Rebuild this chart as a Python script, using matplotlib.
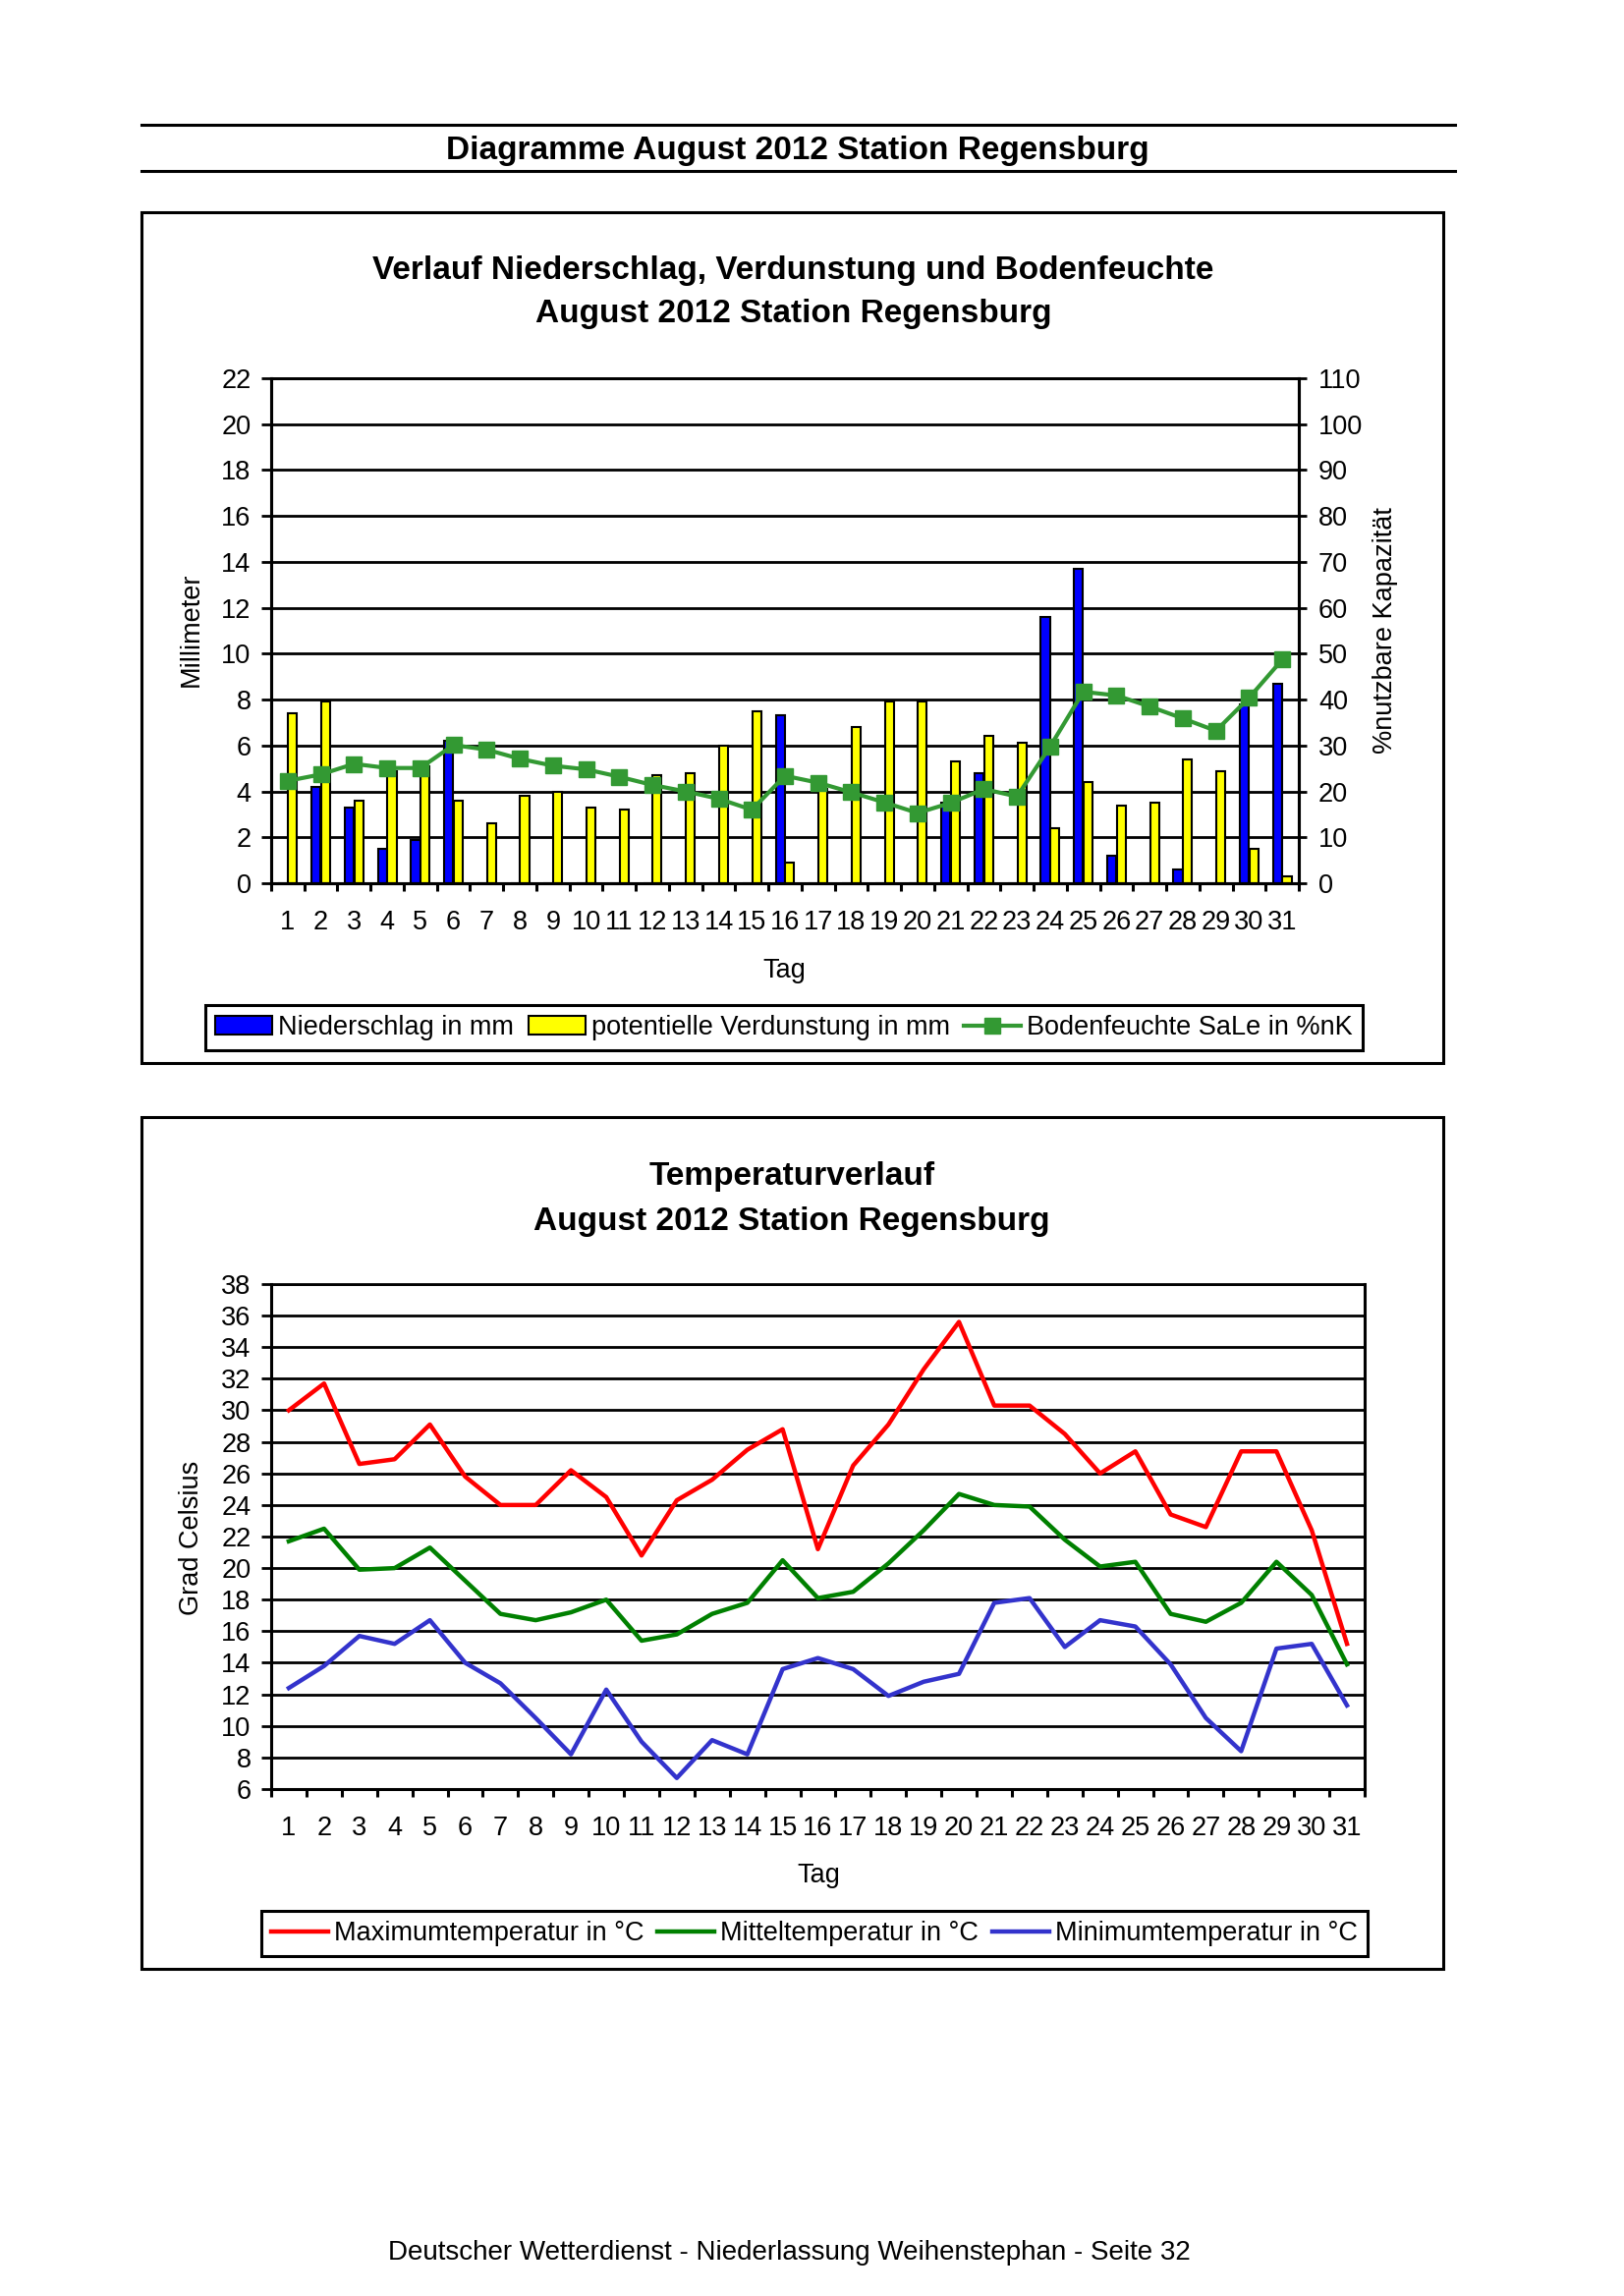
import numpy as np
import matplotlib
matplotlib.use("Agg")
import matplotlib.pyplot as plt
from matplotlib.patches import Rectangle
from matplotlib.lines import Line2D

plt.rcParams['font.family'] = ['Liberation Sans', 'DejaVu Sans']

tage = np.arange(1, 32)
tag_labels = [str(t) for t in tage]

# mm
niederschlag = [0, 4.2, 3.3, 1.5, 1.9, 6.2, 0, 0, 0, 0, 0, 0, 0, 0, 0, 7.3,
                0, 0, 0, 0, 3.5, 4.8, 0, 11.6, 13.7, 1.2, 0, 0.6, 0, 7.8, 8.7]
verdunstung = [7.4, 7.9, 3.6, 4.9, 5.1, 3.6, 2.6, 3.8, 4.0, 3.3, 3.2, 4.7,
               4.8, 6.0, 7.5, 0.9, 4.1, 6.8, 7.9, 7.9, 5.3, 6.4, 6.1, 2.4,
               4.4, 3.4, 3.5, 5.4, 4.9, 1.5, 0.3]
# % nK
bodenfeuchte = [22.3, 23.7, 26.0, 25.1, 25.1, 30.1, 29.1, 27.1, 25.6, 24.8,
                23.2, 21.4, 20.0, 18.4, 16.0, 23.4, 21.9, 19.8, 17.6, 15.3,
                17.5, 20.5, 18.9, 29.8, 41.7, 40.9, 38.5, 35.9, 33.2, 40.4,
                48.7]

# deg C
t_max = [30.0, 31.7, 26.6, 26.9, 29.1, 25.8, 24.0, 24.0, 26.2, 24.5, 20.8,
         24.3, 25.6, 27.5, 28.8, 21.2, 26.5, 29.1, 32.6, 35.6, 30.3, 30.3,
         28.5, 26.0, 27.4, 23.4, 22.6, 27.4, 27.4, 22.4, 15.2]
t_mittel = [21.7, 22.5, 19.9, 20.0, 21.3, 19.2, 17.1, 16.7, 17.2, 18.0, 15.4,
            15.8, 17.1, 17.8, 20.5, 18.1, 18.5, 20.3, 22.4, 24.7, 24.0, 23.9,
            21.8, 20.1, 20.4, 17.1, 16.6, 17.8, 20.4, 18.3, 13.9]
t_min = [12.4, 13.8, 15.7, 15.2, 16.7, 14.0, 12.7, 10.5, 8.2, 12.3, 9.0, 6.7,
         9.1, 8.2, 13.6, 14.3, 13.6, 11.9, 12.8, 13.3, 17.8, 18.1, 15.0, 16.7,
         16.3, 13.9, 10.5, 8.4, 14.9, 15.2, 11.3]

FS = 19.5
FS_T = 24
LW = 2.2


def style_axis(ax, ymin, ymax):
    ax.set_xlim(0.5, 31.5)
    ax.set_ylim(ymin, ymax)
    ax.set_yticks(np.arange(ymin, ymax + 1, 2))
    ax.set_xticks(tage)
    ax.set_xticklabels(tag_labels)
    ax.set_xticks(np.arange(0.5, 32, 1), minor=True)
    ax.tick_params(axis='x', which='major', length=0, pad=19.5, labelsize=FS)
    ax.tick_params(axis='x', which='minor', length=5.8, width=LW,
                   direction='out')
    ax.tick_params(axis='y', length=7.2, width=2.0, pad=7.5, labelsize=FS,
                   direction='out')
    ax.yaxis.grid(True, color='black', lw=2.0)
    ax.set_axisbelow(True)
    for s in ax.spines.values():
        s.set_linewidth(LW)
    ax.spines['top'].set_linewidth(2.0)


fig = plt.figure(figsize=(16.53, 23.37), dpi=100)

# header
fig.add_artist(Line2D([0.0874, 0.8960], [0.9457, 0.9457], lw=LW,
                      color='black', transform=fig.transFigure))
fig.add_artist(Line2D([0.0874, 0.8960], [0.9256, 0.9256], lw=LW,
                      color='black', transform=fig.transFigure))
fig.text(0.4912, 0.9343, "Diagramme August 2012 Station Regensburg",
         ha='center', va='center', fontsize=FS_T, fontweight='bold')

# frames
fig.add_artist(Rectangle((0.0874, 0.5370), 0.8013, 0.3706, fill=False,
                         lw=LW, ec='black', transform=fig.transFigure))
fig.add_artist(Rectangle((0.0874, 0.1425), 0.8013, 0.3710, fill=False,
                         lw=LW, ec='black', transform=fig.transFigure))

# ---- Niederschlag / Verdunstung / Bodenfeuchte
ax1 = fig.add_axes([0.16697, 0.61532, 0.63279, 0.21994])
style_axis(ax1, 0, 22)
bw = 0.27
b1 = ax1.bar(tage - 0.145, niederschlag, bw, color='#0000FF',
             edgecolor='black', lw=1.5, label="Niederschlag in mm")
b2 = ax1.bar(tage + 0.145, verdunstung, bw, color='#FFFF00',
             edgecolor='black', lw=1.5, label="potentielle Verdunstung in mm")

ax2 = ax1.twinx()
ax2.set_ylim(0, 110)
ax2.set_yticks(np.arange(0, 111, 10))
ax2.tick_params(axis='y', length=5.8, width=2.0, pad=8.6, labelsize=FS,
                direction='out')
for s in ax2.spines.values():
    s.set_linewidth(LW)
ax2.spines['top'].set_linewidth(2.0)
l1, = ax2.plot(tage, bodenfeuchte, '-s', color='#339933', lw=3,
               markersize=11, label="Bodenfeuchte SaLe in %nK")

fig.text(0.4886, 0.8819, "Verlauf Niederschlag, Verdunstung und Bodenfeuchte",
         ha='center', va='center', fontsize=FS_T, fontweight='bold')
fig.text(0.4886, 0.8631, "August 2012 Station Regensburg",
         ha='center', va='center', fontsize=FS_T, fontweight='bold')
fig.text(0.4831, 0.5772, "Tag", ha='center', va='center', fontsize=FS)
fig.text(0.118, 0.7257, "Millimeter", ha='center', va='center',
         rotation=90, fontsize=FS)
fig.text(0.853, 0.7253, "%nutzbare Kapazität", ha='center', va='center',
         rotation=90, fontsize=FS)

leg1 = fig.legend([b1, b2, l1],
                  ["Niederschlag in mm", "potentielle Verdunstung in mm",
                   "Bodenfeuchte SaLe in %nK"],
                  loc='center', bbox_to_anchor=(0.4828, 0.5524), ncol=3,
                  fontsize=FS, frameon=True, fancybox=False,
                  edgecolor='black', framealpha=1, borderpad=0.37,
                  handlelength=2.14, handletextpad=0.22, columnspacing=0.55,
                  numpoints=1)
leg1.get_frame().set_linewidth(LW)

# ---- Temperatur
ax3 = fig.add_axes([0.16697, 0.22080, 0.67332, 0.21994])
style_axis(ax3, 6, 38)
la, = ax3.plot(tage, t_max, color='#FF0000', lw=3.2)
lb, = ax3.plot(tage, t_mittel, color='#008000', lw=3.2)
lc, = ax3.plot(tage, t_min, color='#3333CC', lw=3.2)

fig.text(0.4877, 0.4874, "Temperaturverlauf", ha='center', va='center',
         fontsize=FS_T, fontweight='bold')
fig.text(0.4877, 0.4681, "August 2012 Station Regensburg", ha='center',
         va='center', fontsize=FS_T, fontweight='bold')
fig.text(0.5039, 0.1830, "Tag", ha='center', va='center', fontsize=FS)
fig.text(0.118, 0.3303, "Grad Celsius", ha='center', va='center',
         rotation=90, fontsize=FS)

leg2 = fig.legend([la, lb, lc],
                  ["Maximumtemperatur in °C", "Mitteltemperatur in °C",
                   "Minimumtemperatur in °C"],
                  loc='center', bbox_to_anchor=(0.5015, 0.1579), ncol=3,
                  fontsize=FS, frameon=True, fancybox=False,
                  edgecolor='black', framealpha=1, borderpad=0.37,
                  handlelength=2.15, handletextpad=0.22, columnspacing=0.5)
leg2.get_frame().set_linewidth(LW)

fig.text(0.4858, 0.0188,
         "Deutscher Wetterdienst - Niederlassung Weihenstephan - Seite 32",
         ha='center', va='center', fontsize=20)

fig.savefig("out.png", dpi=100, facecolor='white')
